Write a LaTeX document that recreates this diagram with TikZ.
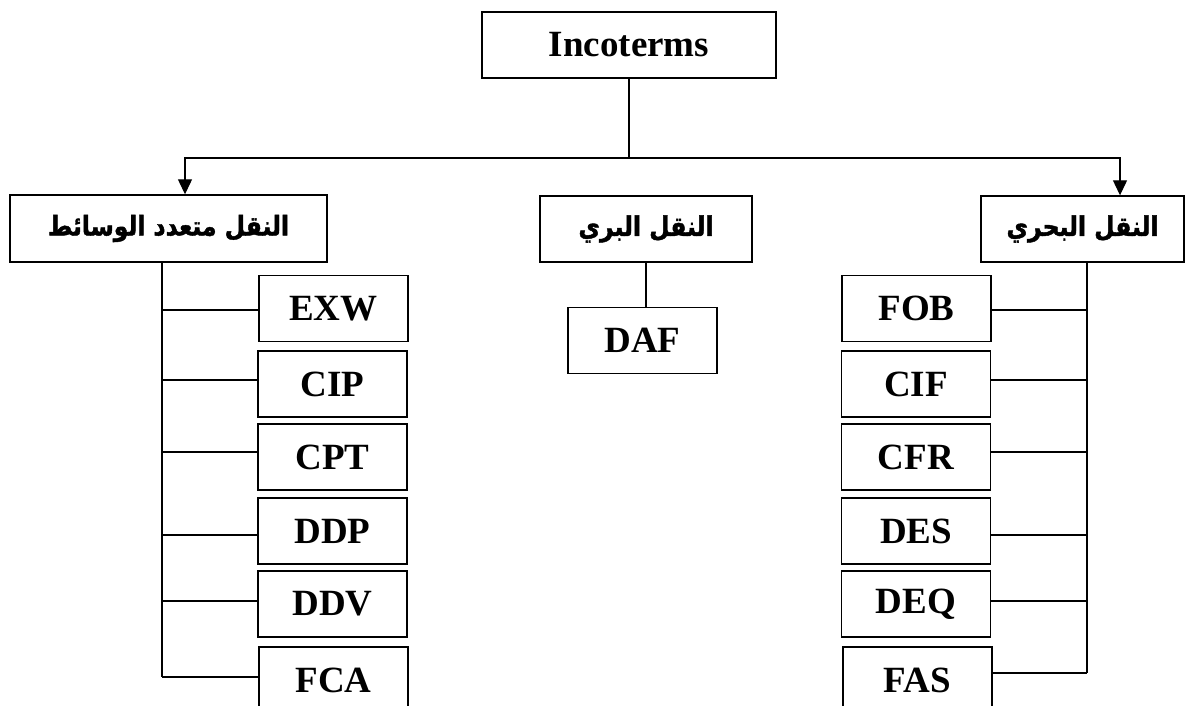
\documentclass[tikz,border=0pt]{standalone}
\usepackage{fontspec}
\setmainfont{Liberation Serif}
\newfontfamily\arabicfont[Script=Arabic, FakeBold=1.6, FakeStretch=0.87]{DejaVu Sans Bold}
\TeXXeTstate=1
\usetikzlibrary{arrows.meta}
\tikzset{
  box/.style={draw, line width=1.4pt, inner sep=0pt, align=center},
  lat/.style={box, font=\fontsize{37}{40}\selectfont\bfseries},
  arb/.style={box, font=\fontsize{27}{30}\selectfont\arabicfont},
  kid/.style={lat, minimum width=149pt, minimum height=66pt},
  ln/.style={line width=1.2pt},
  arr/.style={ln, -{Triangle[length=15pt,width=14pt]}}
}
\begin{document}
\begin{tikzpicture}[x=1pt,y=-1pt]
\useasboundingbox (0,0) rectangle (1185,706);
\clip (0,0) rectangle (1185,706);
% top
\node[lat, minimum width=294pt, minimum height=66pt] (top) at (629,45) {Incoterms};
% category boxes
\node[arb, minimum width=317pt, minimum height=67pt] (multi) at (168.5,228.5) {\beginR النقل متعدد الوسائط\endR};
\node[arb, minimum width=212pt, minimum height=66pt] (land) at (646,229) {\beginR النقل البري\endR};
\node[arb, minimum width=203pt, minimum height=66pt] (sea) at (1082.5,229) {\beginR النقل البحري\endR};
% left children
\node[kid] (EXW) at (333.5,308.5) {EXW};
\node[kid] (CIP) at (332.5,384) {CIP};
\node[kid] (CPT) at (332.5,457) {CPT};
\node[kid] (DDP) at (332.5,531) {DDP};
\node[kid] (DDV) at (332.5,604) {DDV};
\node[kid] (FCA) at (333.5,680) {FCA};
% middle child
\node[kid] (DAF) at (642.5,340.5) {DAF};
% right children
\node[kid] (FOB) at (916.5,308.5) {FOB};
\node[kid] (CIF) at (916,384) {CIF};
\node[kid] (CFR) at (916,457) {CFR};
\node[kid] (DES) at (916,531) {DES};
\node[kid] (DEQ) at (916,604) {DEQ};
\node[kid] (FAS) at (917.5,680) {FAS};
% top connectors
\coordinate (hub) at (629,158);
\draw[ln] (top.south) -- (hub);
\draw[arr] (hub) -| ([xshift=16.5pt]multi.north);
\draw[arr] (hub) -| ([xshift=37.5pt]sea.north);
% left tree
\coordinate (lv) at (162,262);
\coordinate (lvend) at (162,677);
\draw[ln] (lv) -- (lvend);
\path ([yshift=-1.5pt]EXW.west) coordinate (l1)
      ([yshift=4pt]CIP.west) coordinate (l2)
      ([yshift=5pt]CPT.west) coordinate (l3)
      ([yshift=-4pt]DDP.west) coordinate (l4)
      ([yshift=3pt]DDV.west) coordinate (l5)
      ([yshift=3pt]FCA.west) coordinate (l6);
\foreach \c in {l1,l2,l3,l4,l5,l6} \draw[ln] (\c) -- (\c -| lv);
% middle
\draw[ln] (land.south) -- (land.south |- DAF.north);
% right tree
\coordinate (rv) at (1087,262);
\coordinate (rvend) at (1087,673);
\draw[ln] (rv) -- (rvend);
\path ([yshift=-1.5pt]FOB.east) coordinate (r1)
      ([yshift=4pt]CIF.east) coordinate (r2)
      ([yshift=5pt]CFR.east) coordinate (r3)
      ([yshift=-4pt]DES.east) coordinate (r4)
      ([yshift=3pt]DEQ.east) coordinate (r5)
      ([yshift=7pt]FAS.east) coordinate (r6);
\foreach \c in {r1,r2,r3,r4,r5,r6} \draw[ln] (\c) -- (\c -| rv);
\end{tikzpicture}
\end{document}
